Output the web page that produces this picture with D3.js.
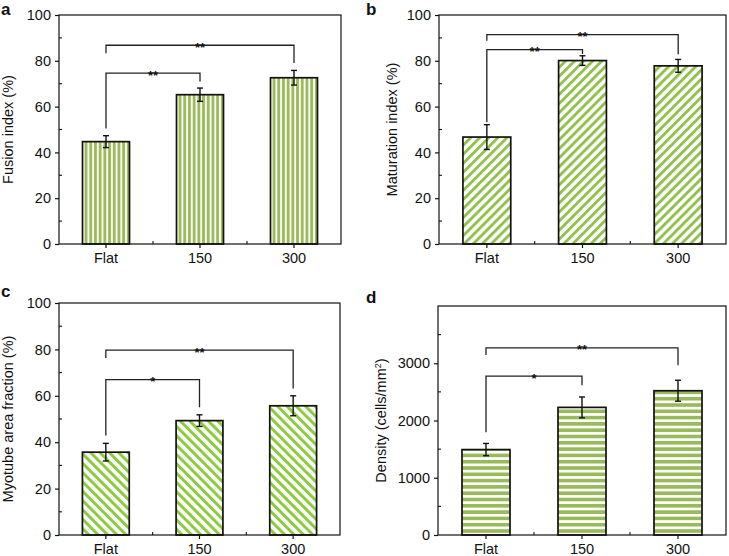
<!DOCTYPE html>
<html><head><meta charset="utf-8">
<script src="https://cdn.jsdelivr.net/npm/d3@7"></script>
<style>
body{margin:0;background:#fff;}
svg{display:block;font-family:"Liberation Sans",Arial,sans-serif;}
</style></head>
<body><svg id="c" width="729" height="556"></svg>
<script>
const categories = ["Flat","150","300"];

const fusionMean = [44.7, 65.2, 72.6];
const fusionErr  = [2.6, 2.9, 3.2];
const maturationMean = [46.7, 80.1, 77.8];
const maturationErr  = [5.4, 2.1, 2.8];
const myotubeMean = [35.7, 49.3, 55.7];
const myotubeErr  = [3.8, 2.5, 4.3];
const densityMean = [1492, 2229, 2520];
const densityErr  = [107, 182, 183];

const percentTicks = [0, 20, 40, 60, 80, 100];
const percentMinor = [10, 30, 50, 70, 90];
const densityTicks = [0, 1000, 2000, 3000];
const densityMinor = [500, 1500, 2500, 3500];

// brackets: [fromIndex, toIndex, level, leftEnd, rightEnd, label]
const fusionBrackets = [[0,1,74.6,50.4,71.0,"**"],[0,2,86.8,83.3,79.0,"**"]];
const maturationBrackets = [[0,1,84.9,53.2,83.0,"**"],[0,2,91.4,88.8,82.9,"**"]];
const myotubeBrackets = [[0,1,67.0,42.9,55.1,"*"],[0,2,79.7,76.3,63.1,"**"]];
const densityBrackets = [[0,1,2774,1793,2617,"*"],[0,2,3268,3146,2965,"**"]];

const svg = d3.select("#c");
const defs = svg.append("defs");

function stripePattern(id, color, period, band, angle){
  const p = defs.append("pattern").attr("id", id)
    .attr("patternUnits","userSpaceOnUse")
    .attr("width", period).attr("height", period)
    .attr("patternTransform", "rotate(" + angle + ")");
  p.append("rect").attr("width", period).attr("height", period).attr("fill","#fff");
  p.append("rect").attr("x",0).attr("y",0).attr("width", band).attr("height", period).attr("fill", color);
}
stripePattern("pa", "#9cbb5a", 4.7, 2.9, 0);     // vertical
stripePattern("pb", "#92c04c", 6.4, 2.9, 45);    // "/"
stripePattern("pc", "#8cca3f", 6.6, 3.0, -45);   // "\"
stripePattern("pd", "#98ba58", 6.3, 3.6, 90);    // horizontal

function panel(o){
  const g = svg.append("g");
  const x = d3.scaleBand().domain(categories).range([o.x0, o.x1]).paddingInner(0.5).paddingOuter(0.25);
  const y = d3.scaleLinear().domain(o.domain).range([o.y1, o.y0]);

  // bars
  g.selectAll(".bar").data(categories).join("rect")
    .attr("x", d => x(d)).attr("width", x.bandwidth())
    .attr("y", (d,i) => y(o.mean[i])).attr("height", (d,i) => y(0) - y(o.mean[i]))
    .attr("fill", "url(#" + o.pat + ")").attr("stroke", "#111").attr("stroke-width", 1.7);

  // error bars
  const eb = g.selectAll(".eb").data(categories).join("g");
  const cx = d => x(d) + x.bandwidth()/2;
  eb.append("line").attr("x1", cx).attr("x2", cx)
    .attr("y1", (d,i) => y(o.mean[i] + o.err[i])).attr("y2", (d,i) => y(o.mean[i] - o.err[i]))
    .attr("stroke", "#111").attr("stroke-width", 1.4);
  [1,-1].forEach(s => {
    eb.append("line").attr("x1", d => cx(d) - 3).attr("x2", d => cx(d) + 3)
      .attr("y1", (d,i) => y(o.mean[i] + s*o.err[i])).attr("y2", (d,i) => y(o.mean[i] + s*o.err[i]))
      .attr("stroke", "#111").attr("stroke-width", 1.4);
  });

  // brackets
  o.brackets.forEach(b => {
    const xa = cx(categories[b[0]]), xb = cx(categories[b[1]]);
    const yl = y(b[2]);
    g.append("path").attr("d", `M${xa},${y(b[3])}V${yl}H${xb}V${y(b[4])}`)
      .attr("fill","none").attr("stroke","#222").attr("stroke-width",1.3);
    g.append("text").attr("x", (xa+xb)/2).attr("y", yl + 6.5)
      .attr("text-anchor","middle").attr("font-size", 13).attr("font-weight","bold").attr("fill","#111").text(b[5]);
  });

  // frame
  g.append("rect").attr("x", o.x0).attr("y", o.y0).attr("width", o.x1-o.x0).attr("height", o.y1-o.y0)
    .attr("fill","none").attr("stroke","#111").attr("stroke-width",1.2);

  // y axis
  const ya = g.append("g").attr("transform", `translate(${o.x0},0)`)
    .call(d3.axisLeft(y).tickValues(o.ticks).tickSize(4).tickPadding(4).tickFormat(d3.format("d")));
  ya.select(".domain").remove();
  ya.selectAll("line").attr("stroke","#111").attr("stroke-width",1.2);
  ya.selectAll("text").attr("font-size",14.5).attr("fill","#111");
  g.selectAll(".ymin").data(o.minor).join("line")
    .attr("x1", o.x0).attr("x2", o.x0 + 3).attr("y1", d => y(d)).attr("y2", d => y(d))
    .attr("stroke","#111").attr("stroke-width",1.1);

  // x axis
  const xa = g.append("g").attr("transform", `translate(0,${o.y1})`)
    .call(d3.axisBottom(x).tickSize(4).tickPadding(5));
  xa.select(".domain").remove();
  xa.selectAll("line").attr("stroke","#111").attr("stroke-width",1.2);
  xa.selectAll("text").attr("font-size",14.5).attr("fill","#111");
  const bounds = [1,2].map(i => o.x0 + i*x.step());
  g.selectAll(".xmin").data(bounds).join("line")
    .attr("x1", d => d).attr("x2", d => d).attr("y1", o.y1).attr("y2", o.y1 - 3)
    .attr("stroke","#111").attr("stroke-width",1.1);

  // title
  const t = g.append("text").attr("transform", `translate(${o.tx},${(o.y0+o.y1)/2}) rotate(-90)`)
    .attr("text-anchor","middle").attr("dy","0.35em").attr("font-size",14.5).attr("fill","#111");
  t.append("tspan").text(o.title);
  if (o.sup) { t.append("tspan").attr("font-size",9).attr("dy","-0.6em").text(o.sup); t.append("tspan").attr("dy","0.4em").text(")"); }

  // letter
  g.append("text").attr("x", o.lx).attr("y", o.ly).attr("font-size",17).attr("font-weight","bold")
    .attr("fill","#111").text(o.letter);
}

panel({x0:59, x1:341, y0:15, y1:244, domain:[0,100], mean:fusionMean, err:fusionErr, pat:"pa",
  brackets:fusionBrackets, ticks:percentTicks, minor:percentMinor, title:"Fusion index (%)", tx:8, letter:"a", lx:1, ly:15});
panel({x0:439, x1:726, y0:15, y1:244, domain:[0,100], mean:maturationMean, err:maturationErr, pat:"pb",
  brackets:maturationBrackets, ticks:percentTicks, minor:percentMinor, title:"Maturation index (%)", tx:392, letter:"b", lx:366, ly:15});
panel({x0:59, x1:340, y0:303, y1:535, domain:[0,100], mean:myotubeMean, err:myotubeErr, pat:"pc",
  brackets:myotubeBrackets, ticks:percentTicks, minor:percentMinor, title:"Myotube area fraction (%)", tx:8, letter:"c", lx:1, ly:297});
panel({x0:438, x1:726, y0:306, y1:535, domain:[0,4000], mean:densityMean, err:densityErr, pat:"pd",
  brackets:densityBrackets, ticks:densityTicks, minor:densityMinor, title:"Density (cells/mm", sup:"2", tx:381, letter:"d", lx:366, ly:303});
</script></body></html>
